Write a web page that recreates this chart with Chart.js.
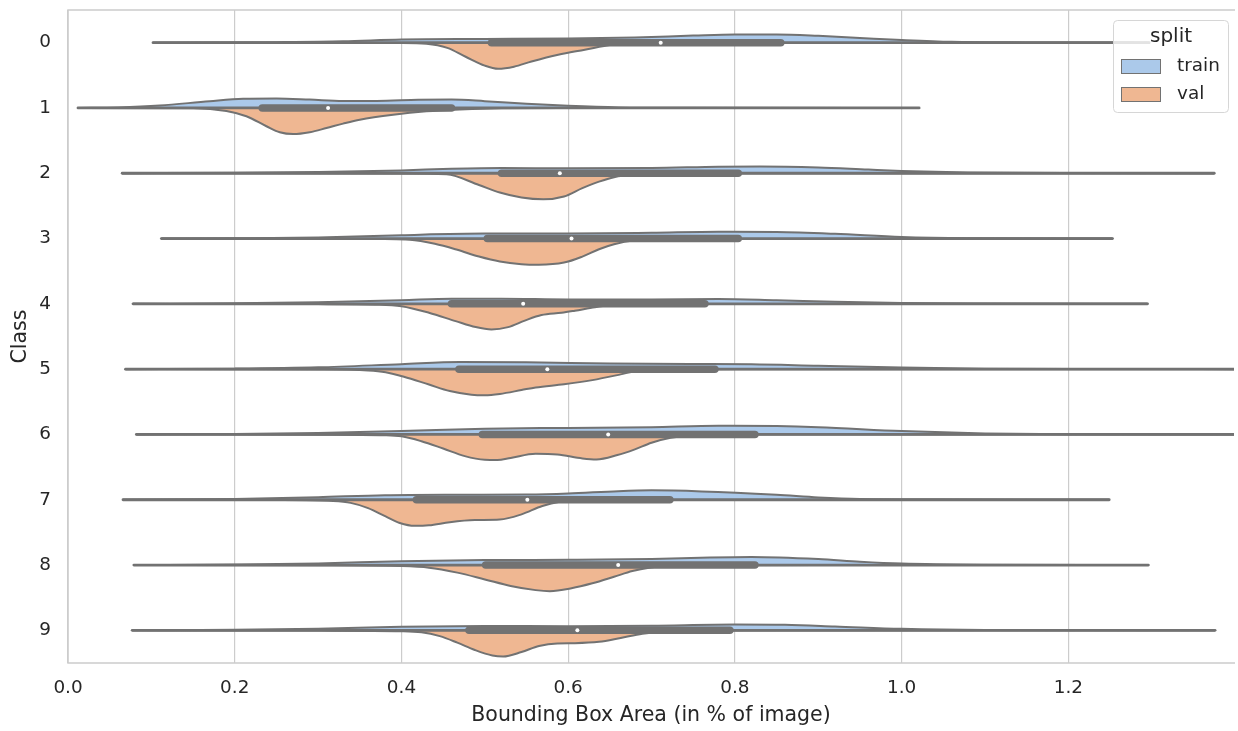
<!DOCTYPE html>
<html>
<head>
<meta charset="utf-8">
<script src="https://cdn.jsdelivr.net/npm/chart.js@4/dist/chart.umd.min.js"></script>
<style>
  html, body { margin: 0; padding: 0; background: #ffffff; }
  #wrap { width: 1238px; height: 731px; position: relative; }
</style>
</head>
<body>
<div id="wrap"><canvas id="c" width="1238" height="731"></canvas></div>
<script>
// ---------------- data ----------------
const classes = ['0','1','2','3','4','5','6','7','8','9'];
const splitNames = ['train', 'val'];
const xTickValues = [0.0, 0.2, 0.4, 0.6, 0.8, 1.0, 1.2];

// range of each class (bounding box area, fraction)
const classMin = [0.102, 0.012, 0.065, 0.112, 0.078, 0.069, 0.082, 0.066, 0.079, 0.077];
const classMax = [1.297, 1.021, 1.375, 1.253, 1.295, 1.45, 1.45, 1.249, 1.296, 1.376];

// box statistics (pooled)
const q1Values     = [0.508, 0.233, 0.520, 0.503, 0.460, 0.469, 0.497, 0.418, 0.501, 0.481];
const q3Values     = [0.855, 0.460, 0.804, 0.804, 0.764, 0.776, 0.824, 0.722, 0.824, 0.794];
const medianValues = [0.711, 0.312, 0.590, 0.604, 0.546, 0.575, 0.648, 0.551, 0.660, 0.611];

// relative density curves [area, density], density scaled so the widest half = 1
const train0 = [[0.102,0],[0.25,0.02],[0.33,0.05],[0.4,0.12],[0.5,0.14],[0.6,0.16],[0.68,0.2],[0.75,0.27],[0.8,0.31],[0.85,0.31],[0.9,0.26],[0.95,0.18],[1.0,0.1],[1.06,0.03],[1.15,0.01],[1.297,0]];
const train1 = [[0.012,0],[0.06,0.02],[0.11,0.09],[0.17,0.26],[0.21,0.35],[0.25,0.36],[0.29,0.32],[0.33,0.27],[0.37,0.27],[0.42,0.31],[0.46,0.32],[0.50,0.26],[0.55,0.16],[0.60,0.08],[0.66,0.02],[0.75,0.005],[1.021,0]];
const train2 = [[0.065,0],[0.2,0.02],[0.3,0.05],[0.4,0.11],[0.46,0.17],[0.52,0.2],[0.6,0.19],[0.7,0.2],[0.78,0.25],[0.83,0.26],[0.9,0.22],[0.96,0.14],[1.0,0.09],[1.08,0.03],[1.2,0.005],[1.375,0]];
const train3 = [[0.112,0],[0.2,0.01],[0.3,0.04],[0.4,0.13],[0.5,0.19],[0.6,0.19],[0.7,0.22],[0.78,0.26],[0.85,0.25],[0.92,0.18],[1.0,0.06],[1.08,0.015],[1.253,0]];
const train4 = [[0.078,0],[0.2,0.02],[0.3,0.06],[0.4,0.14],[0.46,0.2],[0.52,0.2],[0.6,0.17],[0.7,0.17],[0.78,0.19],[0.85,0.14],[0.92,0.08],[1.0,0.03],[1.1,0.01],[1.295,0]];
const train5 = [[0.069,0],[0.2,0.02],[0.3,0.07],[0.4,0.19],[0.47,0.27],[0.55,0.26],[0.65,0.22],[0.75,0.2],[0.82,0.19],[0.9,0.13],[1.0,0.06],[1.1,0.02],[1.25,0.005],[1.45,0]];
const train6 = [[0.082,0],[0.2,0.02],[0.3,0.06],[0.4,0.13],[0.5,0.22],[0.6,0.25],[0.7,0.28],[0.78,0.33],[0.85,0.32],[0.9,0.28],[1.0,0.13],[1.1,0.04],[1.2,0.01],[1.45,0]];
const train7 = [[0.066,0],[0.2,0.03],[0.3,0.1],[0.38,0.17],[0.47,0.19],[0.55,0.2],[0.6,0.24],[0.66,0.33],[0.70,0.36],[0.76,0.32],[0.85,0.19],[0.9,0.09],[0.95,0.03],[1.05,0.01],[1.249,0]];
const train8 = [[0.079,0],[0.2,0.02],[0.3,0.06],[0.4,0.15],[0.5,0.19],[0.6,0.2],[0.7,0.23],[0.77,0.29],[0.82,0.31],[0.9,0.23],[0.95,0.13],[1.0,0.06],[1.1,0.015],[1.296,0]];
const train9 = [[0.077,0],[0.2,0.02],[0.3,0.06],[0.4,0.14],[0.5,0.17],[0.6,0.16],[0.7,0.18],[0.8,0.22],[0.86,0.21],[0.92,0.15],[1.0,0.06],[1.1,0.015],[1.376,0]];

const val0 = [[0.102,0],[0.40,0.01],[0.43,0.04],[0.455,0.2],[0.477,0.54],[0.50,0.88],[0.516,1.0],[0.535,0.92],[0.556,0.72],[0.588,0.46],[0.62,0.27],[0.652,0.08],[0.68,0.02],[0.75,0],[1.297,0]];
const val1 = [[0.012,0],[0.15,0.01],[0.19,0.12],[0.214,0.32],[0.238,0.70],[0.254,0.93],[0.27,1.0],[0.29,0.93],[0.31,0.77],[0.33,0.6],[0.35,0.45],[0.39,0.26],[0.43,0.13],[0.47,0.06],[0.52,0.01],[0.6,0],[1.021,0]];
const val2 = [[0.065,0],[0.40,0.01],[0.454,0.04],[0.493,0.45],[0.518,0.74],[0.544,0.93],[0.57,1.0],[0.595,0.89],[0.617,0.57],[0.637,0.32],[0.655,0.15],[0.68,0.05],[0.72,0.01],[0.8,0],[1.375,0]];
const val3 = [[0.112,0],[0.35,0.01],[0.41,0.05],[0.44,0.2],[0.467,0.43],[0.493,0.69],[0.518,0.88],[0.544,0.98],[0.565,1.0],[0.595,0.92],[0.617,0.69],[0.637,0.41],[0.655,0.22],[0.68,0.07],[0.72,0.01],[0.8,0],[1.253,0]];
const val4 = [[0.078,0],[0.3,0.01],[0.373,0.03],[0.4,0.09],[0.433,0.34],[0.465,0.66],[0.489,0.89],[0.508,0.98],[0.528,0.89],[0.548,0.64],[0.568,0.43],[0.592,0.34],[0.608,0.26],[0.632,0.13],[0.652,0.04],[0.69,0.01],[0.75,0],[1.295,0]];
const val5 = [[0.069,0],[0.3,0.01],[0.36,0.05],[0.381,0.12],[0.403,0.29],[0.433,0.59],[0.458,0.84],[0.484,0.98],[0.5,1.0],[0.518,0.95],[0.544,0.8],[0.561,0.7],[0.595,0.58],[0.629,0.42],[0.663,0.2],[0.68,0.08],[0.71,0.02],[0.8,0],[1.45,0]];
const val6 = [[0.082,0],[0.3,0.01],[0.38,0.03],[0.40,0.07],[0.424,0.26],[0.45,0.54],[0.476,0.83],[0.50,0.97],[0.515,0.98],[0.531,0.9],[0.561,0.74],[0.587,0.77],[0.617,0.92],[0.634,0.96],[0.659,0.79],[0.68,0.57],[0.70,0.32],[0.723,0.13],[0.75,0.03],[0.8,0.005],[1.45,0]];
const val7 = [[0.066,0],[0.25,0.01],[0.318,0.05],[0.339,0.12],[0.36,0.32],[0.381,0.64],[0.398,0.89],[0.416,1.0],[0.433,0.98],[0.458,0.86],[0.488,0.78],[0.518,0.76],[0.544,0.56],[0.569,0.24],[0.59,0.08],[0.62,0.02],[0.7,0],[1.249,0]];
const val8 = [[0.079,0],[0.3,0.01],[0.4,0.04],[0.433,0.1],[0.467,0.29],[0.5,0.55],[0.531,0.8],[0.561,0.96],[0.578,1.0],[0.604,0.89],[0.629,0.7],[0.655,0.45],[0.677,0.23],[0.697,0.1],[0.72,0.03],[0.76,0.005],[1.296,0]];
const val9 = [[0.077,0],[0.3,0.01],[0.4,0.03],[0.424,0.07],[0.446,0.22],[0.467,0.47],[0.488,0.75],[0.509,0.96],[0.522,1.0],[0.544,0.83],[0.565,0.6],[0.587,0.5],[0.608,0.49],[0.637,0.44],[0.663,0.29],[0.689,0.13],[0.715,0.04],[0.76,0.005],[1.376,0]];

const trainCurves = [train0, train1, train2, train3, train4, train5, train6, train7, train8, train9];
const valCurves   = [val0, val1, val2, val3, val4, val5, val6, val7, val8, val9];

// ---------------- styling ----------------
const HALF_WIDTH = 0.4;          // category units for density 1
const TRAIN_COLOR = '#abc9ea';
const VAL_COLOR = '#efb792';
const LINE_COLOR = '#727272';
const GRID_COLOR = '#cccccc';
const TEXT_COLOR = '#262626';
const FONT = "'DejaVu Sans', sans-serif";

const datasets = [];
classes.forEach((c, i) => {
  datasets.push({
    label: splitNames[0] + ' ' + c,
    data: trainCurves[i].map(([x, d]) => ({ x: x, y: i - d * HALF_WIDTH })),
    fill: { value: i },
    backgroundColor: TRAIN_COLOR,
    borderColor: LINE_COLOR,
    borderWidth: 2,
    borderJoinStyle: 'round',
    pointRadius: 0,
    cubicInterpolationMode: 'monotone',
    order: 3
  });
  datasets.push({
    label: splitNames[1] + ' ' + c,
    data: valCurves[i].map(([x, d]) => ({ x: x, y: i + d * HALF_WIDTH })),
    fill: { value: i },
    backgroundColor: VAL_COLOR,
    borderColor: LINE_COLOR,
    borderWidth: 2,
    borderJoinStyle: 'round',
    pointRadius: 0,
    cubicInterpolationMode: 'monotone',
    order: 3
  });
  datasets.push({
    label: 'center ' + c,
    data: [{ x: classMin[i], y: i }, { x: classMax[i], y: i }],
    fill: false,
    borderColor: LINE_COLOR,
    borderWidth: 2.8,
    borderCapStyle: 'round',
    pointRadius: 0,
    order: 2
  });
  datasets.push({
    label: 'box ' + c,
    data: [{ x: q1Values[i], y: i }, { x: q3Values[i], y: i }],
    fill: false,
    borderColor: LINE_COLOR,
    borderWidth: 7.5,
    borderCapStyle: 'round',
    pointRadius: 0,
    order: 1
  });
});
datasets.push({
  label: 'median',
  data: medianValues.map((m, i) => ({ x: m, y: i })),
  showLine: false,
  pointRadius: 2,
  pointBorderWidth: 0,
  pointBackgroundColor: '#ffffff',
  order: 0
});

const framePlugin = {
  id: 'frame',
  beforeDatasetsDraw(chart) {
    const { ctx, chartArea: a } = chart;
    ctx.save();
    ctx.strokeStyle = GRID_COLOR;
    ctx.lineWidth = 1.5;
    ctx.beginPath();
    ctx.moveTo(a.right + 1, a.top);
    ctx.lineTo(a.left, a.top);
    ctx.lineTo(a.left, a.bottom);
    ctx.lineTo(a.right + 1, a.bottom);
    ctx.stroke();
    ctx.restore();
  }
};

const legendPlugin = {
  id: 'splitLegend',
  afterDraw(chart) {
    const ctx = chart.ctx;
    const x = 1113.5, y = 20.5, w = 115, h = 92, r = 4;
    ctx.save();
    ctx.beginPath();
    ctx.moveTo(x + r, y);
    ctx.arcTo(x + w, y, x + w, y + h, r);
    ctx.arcTo(x + w, y + h, x, y + h, r);
    ctx.arcTo(x, y + h, x, y, r);
    ctx.arcTo(x, y, x + w, y, r);
    ctx.closePath();
    ctx.fillStyle = 'rgba(255,255,255,0.8)';
    ctx.fill();
    ctx.strokeStyle = '#d6d6d6';
    ctx.lineWidth = 1;
    ctx.stroke();

    ctx.fillStyle = TEXT_COLOR;
    ctx.textBaseline = 'middle';
    ctx.textAlign = 'center';
    ctx.font = '20px ' + FONT;
    ctx.fillText('split', 1171, 37);

    const colors = [TRAIN_COLOR, VAL_COLOR];
    splitNames.forEach((name, k) => {
      const sy = 59.5 + k * 28;
      ctx.fillStyle = colors[k];
      ctx.fillRect(1121.5, sy, 39, 14);
      ctx.strokeStyle = LINE_COLOR;
      ctx.lineWidth = 1;
      ctx.strokeRect(1121.5, sy, 39, 14);
      ctx.fillStyle = TEXT_COLOR;
      ctx.textAlign = 'left';
      ctx.font = '18.4px ' + FONT;
      ctx.fillText(name, 1177, sy + 7);
    });
    ctx.restore();
  }
};

new Chart(document.getElementById('c'), {
  type: 'line',
  data: { datasets: datasets },
  options: {
    responsive: false,
    animation: false,
    events: [],
    layout: { padding: { top: 10, right: 0, left: 0, bottom: 0 } },
    plugins: {
      legend: { display: false },
      tooltip: { enabled: false }
    },
    scales: {
      x: {
        type: 'linear',
        min: 0,
        max: 1.3987,
        afterFit(scale) {
          scale.height = 68;
          scale.paddingLeft = 0;
          scale.paddingRight = 0;
        },
        afterBuildTicks(scale) { scale.ticks = xTickValues.map(v => ({ value: v })); },
        ticks: {
          includeBounds: false,
          padding: 14,
          color: TEXT_COLOR,
          font: { family: FONT, size: 18.4 },
          maxRotation: 0,
          callback: (v) => Number(v).toFixed(1)
        },
        grid: { color: GRID_COLOR, lineWidth: 1.2, drawTicks: false },
        border: { display: false },
        title: {
          display: true,
          text: 'Bounding Box Area (in % of image)',
          color: TEXT_COLOR,
          font: { family: FONT, size: 20.5, lineHeight: 1.2 },
          padding: { top: 0, bottom: 3 }
        }
      },
      y: {
        type: 'linear',
        min: -0.5,
        max: 9.5,
        reverse: true,
        afterFit(scale) {
          scale.width = 68;
          scale.paddingTop = 0;
          scale.paddingBottom = 0;
        },
        afterBuildTicks(scale) { scale.ticks = classes.map((c, i) => ({ value: i })); },
        ticks: {
          padding: 17,
          color: TEXT_COLOR,
          font: { family: FONT, size: 18.4 },
          callback: (v) => classes[v]
        },
        grid: { display: false, drawTicks: false },
        border: { display: false },
        title: {
          display: true,
          text: 'Class',
          color: TEXT_COLOR,
          font: { family: FONT, size: 20.5, lineHeight: 1.2 },
          padding: { top: 8, bottom: 0 }
        }
      }
    }
  },
  plugins: [framePlugin, legendPlugin]
});
</script>
</body>
</html>
